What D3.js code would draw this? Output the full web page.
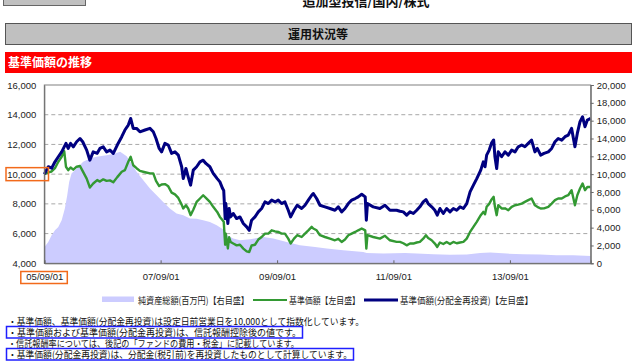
<!DOCTYPE html>
<html>
<head>
<meta charset="utf-8">
<script src="https://cdn.jsdelivr.net/npm/d3@7"></script>
<style>
body { margin: 0; background: #fff; }
text { font-family: "Noto Sans CJK JP", sans-serif; }
.num text, text.num { font-family: "Liberation Sans", Arial, sans-serif; font-size: 9.5px; fill: #222; }
</style>
</head>
<body>
<div id="chart"></div>
<script>
// daily series
var dates = ["2005-09-01","2005-09-26","2005-10-17","2005-11-07","2005-11-28","2005-12-19","2006-01-04","2006-01-15","2006-01-29","2006-02-13",
  "2006-03-02","2006-03-23","2006-04-13","2006-04-30","2006-05-25","2006-06-14","2006-07-05","2006-07-30","2006-08-16","2006-09-06",
  "2006-09-27","2006-10-18","2006-11-08","2006-12-03","2006-12-31","2007-01-20","2007-02-10","2007-02-25","2007-03-13","2007-04-03",
  "2007-04-24","2007-05-26","2007-06-26","2007-07-17","2007-08-03","2007-08-23","2007-09-07","2007-09-28","2007-10-19","2007-11-09",
  "2007-11-30","2007-12-21","2008-01-11","2008-01-21","2008-02-07","2008-02-21","2008-03-07","2008-03-24","2008-04-14","2008-05-05",
  "2008-05-25","2008-06-11","2008-07-06","2008-07-27","2008-08-21","2008-09-07","2008-09-24","2008-10-01","2008-10-10","2008-10-14",
  "2008-10-27","2008-11-04","2008-11-13","2008-11-30","2008-12-21","2009-01-11","2009-02-01","2009-02-22","2009-03-10","2009-03-25",
  "2009-04-15","2009-05-06","2009-05-27","2009-06-17","2009-07-08","2009-07-29","2009-08-19","2009-09-08","2009-09-29","2009-10-20",
  "2009-11-10","2009-11-25","2009-12-16","2010-01-05","2010-02-02","2010-02-23","2010-03-16","2010-04-06","2010-04-16","2010-05-07",
  "2010-05-28","2010-06-28","2010-07-30","2010-08-30","2010-09-20","2010-10-11","2010-11-01","2010-11-22","2010-12-13","2011-01-04",
  "2011-01-23","2011-02-14","2011-03-08","2011-03-15","2011-03-22","2011-04-27","2011-06-08","2011-07-10","2011-08-10","2011-09-21",
  "2011-10-12","2011-11-02","2011-11-23","2011-12-14","2012-01-04","2012-01-25","2012-02-14","2012-03-06","2012-03-23","2012-04-06",
  "2012-04-28","2012-05-18","2012-06-02","2012-06-19","2012-07-10","2012-07-31","2012-08-21","2012-09-11","2012-10-02","2012-10-23",
  "2012-11-13","2012-12-04","2012-12-25","2013-01-15","2013-02-05","2013-03-02","2013-03-18","2013-03-29","2013-04-08","2013-04-24",
  "2013-05-09","2013-05-22","2013-05-30","2013-06-10","2013-06-20","2013-07-11","2013-08-01","2013-08-22","2013-09-12","2013-10-03",
  "2013-10-23","2013-11-14","2013-12-04","2013-12-25","2014-01-15","2014-02-05","2014-02-20","2014-03-13","2014-04-03","2014-04-30",
  "2014-05-21","2014-06-11","2014-07-01","2014-07-23","2014-08-13","2014-09-02","2014-09-23","2014-10-14","2014-10-29","2014-11-15",
  "2014-12-01","2014-12-16","2014-12-31","2015-01-21"];

// 基準価額(分配金再投資)
var navReinvest = [10000,10500,10400,10830,11170,11500,11840,12070,11730,12070,
  11840,12180,12400,12180,11620,10940,11500,11400,11730,11840,
  11500,11620,11400,11960,12520,12970,13300,13750,13080,13080,
  12850,12970,13080,12850,12400,11730,11500,12070,11960,11400,
  11500,11280,10500,9700,10380,9820,9260,10270,10500,10830,
  10940,10720,10500,10050,9700,9480,9030,8900,7000,8020,
  6680,7690,7120,7350,7010,7120,6680,6450,6220,6900,
  7120,7460,7690,8130,8020,8250,8130,8250,8020,8130,
  7570,7120,7570,7910,7690,7910,8250,8580,8700,8360,
  7910,7800,7690,7570,7800,7460,7690,8020,8250,8360,
  8470,8650,8470,6900,8020,7800,7690,7910,7570,7570,
  7500,7460,7240,7460,7350,7570,7800,8130,8290,8020,
  7800,7570,7240,7690,7350,7690,7460,7690,7570,7800,
  7690,8020,8810,9260,9700,10270,10830,10500,11280,11620,
  12100,12300,11170,10380,11500,11170,11500,11280,11620,11500,
  11840,11960,11840,12070,12290,11500,11730,11280,11400,11500,
  11730,12180,12400,12290,12520,12630,13080,11840,12740,13530,
  13860,13190,13640,13750];

// 基準価額
var nav = [10000,10120,10180,10400,10830,11170,11550,10500,10270,10450,
  10300,10500,10550,10200,9700,9100,9370,9600,9500,9650,
  9550,9580,9450,9800,10160,10270,10830,11170,10600,10400,
  10220,10130,10050,10050,9550,9200,9300,9330,9180,8760,
  8640,8400,7950,7690,7910,7690,7240,7600,8130,8360,
  8580,8400,8130,7800,7460,7120,6900,6800,5250,6000,
  5000,5750,5440,5330,5210,5250,4990,4800,4760,5200,
  5250,5600,5770,6000,6000,6220,6150,6110,6000,6000,
  5660,5330,5660,5890,5770,6000,6220,6450,6340,6220,
  5890,5770,5660,5550,5650,5440,5600,5890,6000,6110,
  6220,6340,6220,4990,5890,5770,5660,5850,5550,5440,
  5440,5350,5210,5330,5330,5400,5440,5660,5890,5700,
  5550,5330,5100,5400,5300,5440,5300,5440,5350,5400,
  5440,5660,6110,6450,6790,7240,7460,7300,7800,8000,
  8300,8470,7800,7240,7910,7690,7700,7570,7800,7910,
  7950,8020,8130,8250,8360,7900,7800,7690,7700,7800,
  8020,8250,8360,8360,8500,8580,8920,7910,8580,9030,
  9370,8920,9140,9140];

// 純資産総額(百万円)
var assetDates = ["2005-09-01","2005-09-26","2005-10-17","2005-11-07","2005-11-28","2005-12-19","2006-01-08","2006-01-23","2006-02-04","2006-02-19",
  "2006-03-23","2006-05-03","2006-06-14","2006-07-26","2006-09-27","2006-11-19","2006-12-21","2007-01-31","2007-03-05","2007-04-03",
  "2007-05-14","2007-06-26","2007-08-07","2007-09-17","2007-10-29","2007-12-10","2008-01-21","2008-03-03","2008-04-14","2008-05-25",
  "2008-07-06","2008-08-18","2008-09-28","2008-10-19","2008-11-30","2009-01-11","2009-03-15","2009-06-06","2009-08-08","2009-10-31",
  "2010-01-22","2010-04-27","2010-07-09","2010-10-21","2011-02-24","2011-03-17","2011-06-30","2011-11-13","2012-01-25","2012-05-08",
  "2012-08-21","2012-12-04","2013-02-26","2013-04-30","2013-08-12","2013-11-24","2014-03-09","2014-06-21","2014-10-03","2015-01-21"];
var assets = [1800,2390,3150,3700,4080,4830,6150,7640,9130,10080,
  10640,11380,11760,11940,12130,12320,12510,12000,11100,10260,
  9330,8390,7640,6890,6150,5580,5390,5020,5000,4830,
  4640,4270,3800,3150,2780,2580,2700,2960,2780,2390,
  2020,1830,1650,1460,1270,1160,1090,1150,1090,1010,
  950,980,1160,1200,1090,1010,980,900,900,820];

var leftTicks = [4000, 6000, 8000, 10000, 12000, 14000, 16000];
var rightTicks = [0, 2000, 4000, 6000, 8000, 10000, 12000, 14000, 16000, 18000, 20000];
var xTickDates = ["2005-09-01", "2007-09-01", "2009-09-01", "2011-09-01", "2013-09-01"];
var xTickLabels = ["05/09/01", "07/09/01", "09/09/01", "11/09/01", "13/09/01"];

var legendLabels = ["純資産総額(百万円)【右目盛】", "基準価額【左目盛】", "基準価額(分配金再投資)【左目盛】"];
var notes = [
  "・基準価額、基準価額(分配金再投資)は設定日前営業日を10,000として指数化しています。",
  "・基準価額および基準価額(分配金再投資)は、信託報酬控除後の値です。",
  "・信託報酬率については、後記の「ファンドの費用・税金」に記載しています。",
  "・基準価額(分配金再投資)は、分配金(税引前)を再投資したものとして計算しています。"
];

var parseDate = d3.timeParse("%Y-%m-%d");

var svg = d3.select("#chart").append("svg")
    .attr("width", 633)
    .attr("height", 363);

// page header bits
svg.append("rect")
    .attr("x", 3.5).attr("y", -10).attr("width", 82).attr("height", 15.5)
    .attr("fill", "#c0c0c0").attr("stroke", "#666");
svg.append("text")
    .attr("x", 366).attr("y", 6)
    .attr("text-anchor", "middle")
    .attr("font-size", 13).attr("font-weight", "bold").attr("fill", "#111")
    .text("追加型投信/国内/株式");

svg.append("rect")
    .attr("x", 5.5).attr("y", 23.5).attr("width", 626).attr("height", 21)
    .attr("fill", "#c0c0c0").attr("stroke", "#555");
svg.append("text")
    .attr("x", 318).attr("y", 38.5)
    .attr("text-anchor", "middle")
    .attr("font-size", 12).attr("font-weight", "bold").attr("fill", "#111")
    .text("運用状況等");

svg.append("rect")
    .attr("x", 5).attr("y", 52).attr("width", 627).attr("height", 21)
    .attr("fill", "#ff0000");
svg.append("text")
    .attr("x", 8).attr("y", 67)
    .attr("font-size", 12).attr("font-weight", "bold").attr("fill", "#fff")
    .text("基準価額の推移");

// plot area
var plot = { left: 44.3, right: 590.7, top: 85, bottom: 263.3 };

var x = d3.scaleTime()
    .domain([parseDate(dates[0]), parseDate(dates[dates.length - 1])])
    .range([plot.left, plot.right]);

var yLeft = d3.scaleLinear()
    .domain([4000, 16000])
    .range([plot.bottom, plot.top]);

var yRight = d3.scaleLinear()
    .domain([0, 20000])
    .range([plot.bottom, plot.top]);

// dashed grid under everything
svg.append("g").selectAll("line")
    .data(leftTicks.slice(1, -1))
    .enter().append("line")
    .attr("x1", plot.left).attr("x2", plot.right)
    .attr("y1", function(d){ return yLeft(d); })
    .attr("y2", function(d){ return yLeft(d); })
    .attr("stroke", "#a8a8a8")
    .attr("stroke-dasharray", "4,3");

var lineData = dates.map(function(d, i){
    return { date: parseDate(d), reinvest: navReinvest[i], nav: nav[i] };
});
var assetData = assetDates.map(function(d, i){
    return { date: parseDate(d), value: assets[i] };
});

var area = d3.area()
    .x(function(d){ return x(d.date); })
    .y0(yRight(0))
    .y1(function(d){ return yRight(d.value); });

svg.append("path")
    .datum(assetData)
    .attr("d", area)
    .attr("fill", "#ccccff");

var navLine = d3.line()
    .x(function(d){ return x(d.date); })
    .y(function(d){ return yLeft(d.nav); });

var reinvestLine = d3.line()
    .x(function(d){ return x(d.date); })
    .y(function(d){ return yLeft(d.reinvest); });

svg.append("path")
    .datum(lineData)
    .attr("d", navLine)
    .attr("fill", "none")
    .attr("stroke", "#339933")
    .attr("stroke-width", 2.4)
    .attr("stroke-linejoin", "round");

svg.append("path")
    .datum(lineData)
    .attr("d", reinvestLine)
    .attr("fill", "none")
    .attr("stroke", "#000080")
    .attr("stroke-width", 3)
    .attr("stroke-linejoin", "round");

// frame
svg.append("rect")
    .attr("x", plot.left).attr("y", plot.top)
    .attr("width", plot.right - plot.left)
    .attr("height", plot.bottom - plot.top)
    .attr("fill", "none")
    .attr("stroke", "#808080");

// axes
var leftAxis = svg.append("g")
    .attr("class", "num")
    .attr("transform", "translate(" + plot.left + ",0)")
    .call(d3.axisLeft(yLeft).tickValues(leftTicks).tickSize(0).tickPadding(8)
        .tickFormat(d3.format(",")));
leftAxis.select(".domain").attr("stroke", "#666");

var rightAxis = svg.append("g")
    .attr("class", "num")
    .attr("transform", "translate(" + plot.right + ",0)")
    .call(d3.axisRight(yRight).tickValues(rightTicks).tickSize(3).tickPadding(3)
        .tickFormat(d3.format(",")));
rightAxis.selectAll("line, .domain").attr("stroke", "#666");

var bottomAxis = svg.append("g")
    .attr("class", "num")
    .attr("transform", "translate(0," + plot.bottom + ")")
    .call(d3.axisBottom(x).tickValues(xTickDates.map(parseDate)).tickSize(-3).tickPadding(10)
        .tickFormat(function(d, i){ return xTickLabels[i]; }));
bottomAxis.selectAll("line, .domain").attr("stroke", "#666");

// orange highlight boxes
svg.append("rect")
    .attr("x", 6).attr("y", yLeft(10000) - 6.5)
    .attr("width", 42.5).attr("height", 13)
    .attr("fill", "none").attr("stroke", "#f26a1b").attr("stroke-width", 1.5);
svg.append("rect")
    .attr("x", x(parseDate(xTickDates[0])) - 23.5).attr("y", 271.5)
    .attr("width", 46.5).attr("height", 12)
    .attr("fill", "none").attr("stroke", "#f26a1b").attr("stroke-width", 1.5);

// legend
var legend = svg.append("g").attr("transform", "translate(0,300)");
legend.append("rect")
    .attr("x", 102).attr("y", -3.5).attr("width", 32).attr("height", 5.5)
    .attr("fill", "#ccccff");
legend.append("line")
    .attr("x1", 253).attr("x2", 287)
    .attr("stroke", "#339933").attr("stroke-width", 2);
legend.append("line")
    .attr("x1", 364).attr("x2", 398)
    .attr("stroke", "#000080").attr("stroke-width", 3);

var legendX = [138, 289, 400];
var legendW = [111, 71, 133];
legend.selectAll("text.leg")
    .data(legendLabels)
    .enter().append("text")
    .attr("class", "leg")
    .attr("x", function(d, i){ return legendX[i]; })
    .attr("y", 3.5)
    .attr("font-size", 9.5)
    .attr("fill", "#222")
    .attr("textLength", function(d, i){ return legendW[i]; })
    .attr("lengthAdjust", "spacingAndGlyphs")
    .text(function(d){ return d; });

// notes under the chart
var noteY = [321, 332, 343, 354];
var noteW = [356, 293, 291, 344];
svg.selectAll("text.note")
    .data(notes)
    .enter().append("text")
    .attr("class", "note")
    .attr("x", 8)
    .attr("y", function(d, i){ return noteY[i] + 3.5; })
    .attr("font-size", 9.5)
    .attr("fill", "#111")
    .attr("textLength", function(d, i){ return noteW[i]; })
    .attr("lengthAdjust", "spacingAndGlyphs")
    .text(function(d){ return d; });

// blue boxes on lines 2 and 4
[[1, 296], [3, 347]].forEach(function(b){
    svg.append("rect")
        .attr("x", 6.5).attr("y", noteY[b[0]] - 5.5)
        .attr("width", b[1]).attr("height", 11.5)
        .attr("fill", "none").attr("stroke", "#1f1fff").attr("stroke-width", 1.5);
});
</script>
</body>
</html>
